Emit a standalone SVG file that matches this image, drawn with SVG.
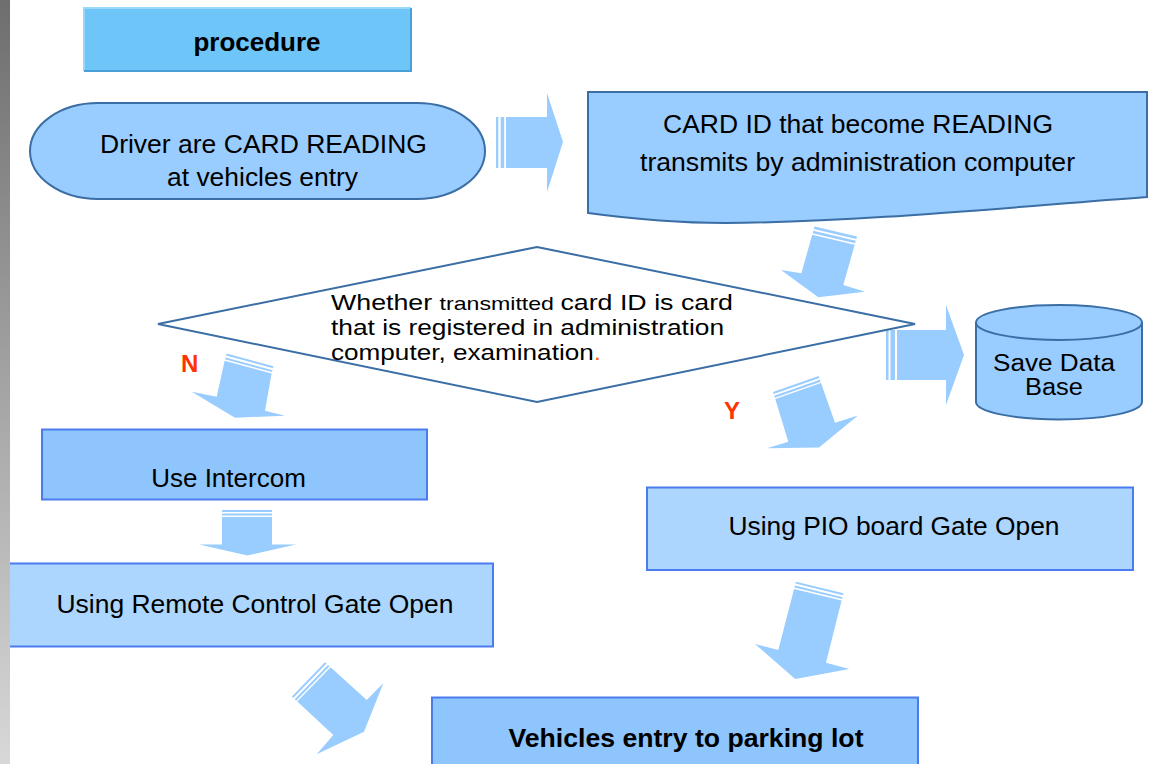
<svg xmlns="http://www.w3.org/2000/svg" width="1155" height="764" viewBox="0 0 1155 764">
<defs>
<linearGradient id="bar" x1="0" y1="0" x2="0" y2="1">
<stop offset="0" stop-color="#6e6e6e"/>
<stop offset="1" stop-color="#d8d8d8"/>
</linearGradient>
<style>
text{font-family:"Liberation Sans",Arial,sans-serif;fill:#000;}
.t{font-size:26px;text-anchor:middle;}
.b{font-weight:bold;}
.dk{fill:#99ccff;stroke:#3a6ea5;stroke-width:2;}
.bx1{fill:#8dc5fc;stroke:#4a7cf0;stroke-width:2;}
.bx2{fill:#acd6fd;stroke:#4a7cf0;stroke-width:2;}
.ar{fill:#99ccff;stroke:none;}
.lbl{font-size:24px;font-weight:bold;fill:#ff3300;}
.dt{font-size:22px;}
.db{font-size:23px;text-anchor:middle;}
</style>
</defs>
<rect width="1155" height="764" fill="#ffffff"/>

<g id="connectors">
<!-- Driver -> CARD ID -->
<rect class="ar" x="496" y="117" width="2.3" height="51"/>
<rect class="ar" x="500.7" y="117" width="3.5" height="51"/>
<polygon class="ar" points="506,117 547,117 547,93 563,142 547,192 547,168 506,168"/>
<!-- CARD ID -> down -->
<polygon class="ar" points="814.5,226.5 857,236.5 856.3,238.9 813.8,228.9"/>
<polygon class="ar" points="813.3,230.8 855.8,240.8 855.1,243.2 812.6,233.2"/>
<polygon class="ar" points="812.2,234.7 854.7,244.7 843.3,285 865,291.7 818.3,297.3 781,270 801.4,273.3"/>
<!-- diamond -> Save Data Base -->
<rect class="ar" x="886" y="330" width="2.5" height="50"/>
<rect class="ar" x="890.5" y="330" width="4.5" height="50"/>
<polygon class="ar" points="897,330 946,330 946,305 964,355 946,405 946,380 897,380"/>
<!-- N arrow -->
<polygon class="ar" points="226.5,353.5 273.5,366.3 273,368.2 226,355.4"/>
<polygon class="ar" points="225.5,357.4 272.5,370.2 272,372.1 225,359.3"/>
<polygon class="ar" points="224.6,360.8 271.6,373.6 265,410.7 285,415.7 235,417.7 191.7,391.7 216.7,396.7"/>
<!-- Y arrow -->
<polygon class="ar" points="773,392 818.7,376 819.3,377.9 773.6,393.9"/>
<polygon class="ar" points="774.2,395.8 819.9,379.8 820.6,381.7 774.9,397.7"/>
<polygon class="ar" points="775.3,399.1 821,383.1 835,422.7 858,415.5 819,447.5 767,448.3 788.3,441.7"/>
<!-- Intercom -> Remote -->
<rect class="ar" x="222" y="510" width="50" height="2"/>
<rect class="ar" x="222" y="513.5" width="50" height="2"/>
<polygon class="ar" points="222,517 272,517 272,544.5 296,544.5 247.5,555.5 199,544.5 222,544.5"/>
<!-- Remote -> Vehicles -->
<polygon class="ar" points="291.7,696.7 325,662.3 326.5,663.6 293.2,698"/>
<polygon class="ar" points="294.7,699.3 328,664.9 329.5,666.3 296.2,700.7"/>
<polygon class="ar" points="297.3,701.6 330.6,667.3 366.7,700 383.3,683.3 364,731.7 316.7,754.3 333.3,735"/>
<!-- PIO -> Vehicles -->
<polygon class="ar" points="796,581.7 843.5,593.3 843,595.2 795.5,583.6"/>
<polygon class="ar" points="795,585.6 842.5,597.2 842,599.1 794.5,587.5"/>
<polygon class="ar" points="794.1,589 841.6,600.6 826,662.7 849.3,669 795.2,679 755,644 778.3,650"/>
</g>

<g id="label-n"><text class="lbl" x="181" y="372">N</text></g>
<g id="label-y"><text class="lbl" x="724" y="419">Y</text></g>

<g id="procedure">
<rect x="84" y="8" width="327" height="63" fill="#6ec6f8"/>
<polyline points="84,71 84,8 411,8" fill="none" stroke="#9ad8fb" stroke-width="2"/>
<polyline points="411,8 411,71 84,71" fill="none" stroke="#4a9fd9" stroke-width="2"/>
<text class="t b" x="257" y="51">procedure</text>
</g>

<g id="driver">
<rect class="dk" x="30" y="103" width="455" height="96" rx="68" ry="48"/>
<text class="t" x="263.5" y="152.5" textLength="327" lengthAdjust="spacingAndGlyphs">Driver are CARD READING</text>
<text class="t" x="262.5" y="186" textLength="191" lengthAdjust="spacingAndGlyphs">at vehicles entry</text>
</g>

<g id="card-id">
<path class="dk" d="M588,92 H1147 V197 C1000,208 860,222 725,223 C680,223 640,220 588,213 Z"/>
<text class="t" x="858" y="133" textLength="390" lengthAdjust="spacingAndGlyphs">CARD ID that become READING</text>
<text class="t" x="857.5" y="171" textLength="435" lengthAdjust="spacingAndGlyphs">transmits by administration computer</text>
</g>

<g id="decision">
<polygon points="537,247 915,324 537,402 158,324" fill="#ffffff" stroke="#3a6ea5" stroke-width="2"/>
<text class="dt" x="331" y="310" textLength="402" lengthAdjust="spacingAndGlyphs"><tspan>Whether </tspan><tspan font-size="19px">transmitted </tspan><tspan>card ID is card</tspan></text>
<text class="dt" x="331" y="335" textLength="393" lengthAdjust="spacingAndGlyphs">that is registered in administration</text>
<text class="dt" x="331" y="360" textLength="270" lengthAdjust="spacingAndGlyphs">computer, examination<tspan fill="#ff6600">.</tspan></text>
</g>

<g id="database">
<path class="dk" d="M976,322.5 V402 A83,17.5 0 0 0 1142,402 V322.5"/>
<ellipse class="dk" cx="1059" cy="322.5" rx="83" ry="17.5"/>
<text class="db" x="1054" y="371" textLength="122" lengthAdjust="spacingAndGlyphs">Save Data</text>
<text class="db" x="1054" y="395" textLength="58" lengthAdjust="spacingAndGlyphs">Base</text>
</g>

<g id="intercom">
<rect class="bx1" x="42" y="429.5" width="385" height="70"/>
<text class="t" x="228.5" y="487">Use Intercom</text>
</g>

<g id="remote">
<rect class="bx2" x="4" y="563.5" width="489" height="83"/>
<text class="t" x="255" y="613" textLength="397" lengthAdjust="spacingAndGlyphs">Using Remote Control Gate Open</text>
</g>

<g id="pio">
<rect class="bx2" x="647" y="487.5" width="486" height="82.5"/>
<text class="t" x="894" y="535" textLength="331" lengthAdjust="spacingAndGlyphs">Using PIO board Gate Open</text>
</g>

<g id="vehicles">
<rect class="bx1" x="432" y="697.5" width="486" height="80"/>
<text class="t b" x="686" y="747" textLength="355" lengthAdjust="spacingAndGlyphs">Vehicles entry to parking lot</text>
</g>

<rect id="side-bar" x="0" y="0" width="10" height="764" fill="url(#bar)"/>
</svg>
